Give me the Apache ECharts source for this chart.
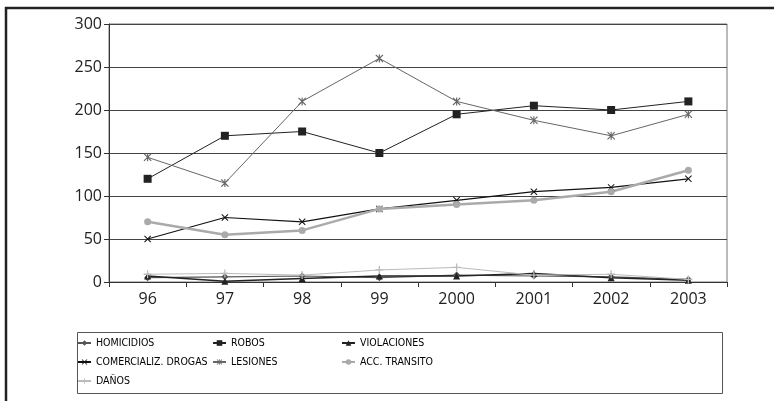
<!DOCTYPE html>
<html><head><meta charset="utf-8">
<script src="https://cdn.jsdelivr.net/npm/echarts@6/dist/echarts.min.js"></script>
<style>html,body{margin:0;padding:0;background:#fff}#c{width:774px;height:401px}</style>
</head><body><div id="c"></div>
<script>
const years = ['96','97','98','99','2000','2001','2002','2003'];
const homicidios = [5, 6, 7, 5, 8, 7, 6, 3];
const robos = [120, 170, 175, 150, 195, 205, 200, 210];
const violaciones = [7, 1, 4, 7, 7, 10, 5, 2];
const comercializDrogas = [50, 75, 70, 85, 95, 105, 110, 120];
const lesiones = [145, 115, 210, 260, 210, 188, 170, 195];
const accTransito = [70, 55, 60, 85, 90, 95, 105, 130];
const danos = [9, 10, 8, 14, 17, 8, 9, 3];
const yTicks = [0, 300, 50];

const X = 'path://M0,1L1,0L5,4L9,0L10,1L6,5L10,9L9,10L5,6L1,10L0,9L4,5Z';
const STAR = 'path://M0,1L1,0L5,4L9,0L10,1L6,5L10,9L9,10L5,6L1,10L0,9L4,5ZM4.3,0H5.7V10H4.3Z';
const PLUS = 'path://M4.2,0H5.8V4.2H10V5.8H5.8V10H4.2V5.8H0V4.2H4.2Z';

function s(name, data, color, symbol, size, width) {
  return {name, type:'line', data, symbol, symbolSize:size, showSymbol:true,
    lineStyle:{color, width}, itemStyle:{color}, animation:false, z: 3};
}
const series = [
  s('HOMICIDIOS', homicidios, '#555', 'diamond', 7, 1.2),
  s('ROBOS', robos, '#222', 'rect', 8, 1),
  s('VIOLACIONES', violaciones, '#222', 'triangle', 7, 1.5),
  s('COMERCIALIZ. DROGAS', comercializDrogas, '#111', X, 7, 1.2),
  s('LESIONES', lesiones, '#666', STAR, 8, 1),
  s('ACC. TRANSITO', accTransito, '#aaa', 'circle', 7, 2.5),
  s('DAÑOS', danos, '#bbb', PLUS, 8, 1)
];
const legendText = {fontFamily:'"Liberation Sans Narrow","DejaVu Sans Condensed",sans-serif', fontSize:10.5, color:'#000', lineHeight:12};
function lg(left, names) {
  return {orient:'vertical', left, top:337, itemWidth:13, itemHeight:7, itemGap:7,
    data:names, textStyle:legendText, padding:0, selectedMode:false};
}
const chart = echarts.init(document.getElementById('c'));
chart.setOption({
  backgroundColor:'#fff',
  animation:false,
  grid:{left:109, right:47, top:24, bottom:119, show:true, borderColor:'#777', borderWidth:1},
  xAxis:{type:'category', data:years, boundaryGap:true,
    axisLine:{lineStyle:{color:'#333', width:1}},
    axisTick:{show:true, length:5, lineStyle:{color:'#333'}},
    axisLabel:{fontFamily:'"Open Sans",sans-serif', fontSize:16, color:'#222', margin:9}},
  yAxis:{type:'value', min:yTicks[0], max:yTicks[1], interval:yTicks[2],
    axisLine:{show:true, lineStyle:{color:'#333'}},
    axisTick:{show:true, length:5, lineStyle:{color:'#333'}},
    splitLine:{lineStyle:{color:'#444', width:1}},
    axisLabel:{fontFamily:'"Open Sans",sans-serif', fontSize:16, color:'#222', margin:7}},
  legend:[
    lg(77, ['HOMICIDIOS','COMERCIALIZ. DROGAS','DAÑOS']),
    lg(212, ['ROBOS','LESIONES']),
    lg(341, ['VIOLACIONES','ACC. TRANSITO'])
  ],
  graphic:[
    {type:'rect', shape:{x:77.5, y:332.5, width:645, height:61}, style:{fill:'none', stroke:'#555', lineWidth:1}, z:-1},
    {type:'line', shape:{x1:5, y1:8, x2:774, y2:8}, style:{stroke:'#222', lineWidth:2.5}},
    {type:'line', shape:{x1:6, y1:7, x2:6, y2:401}, style:{stroke:'#222', lineWidth:2.5}}
  ],
  series
});
</script></body></html>
